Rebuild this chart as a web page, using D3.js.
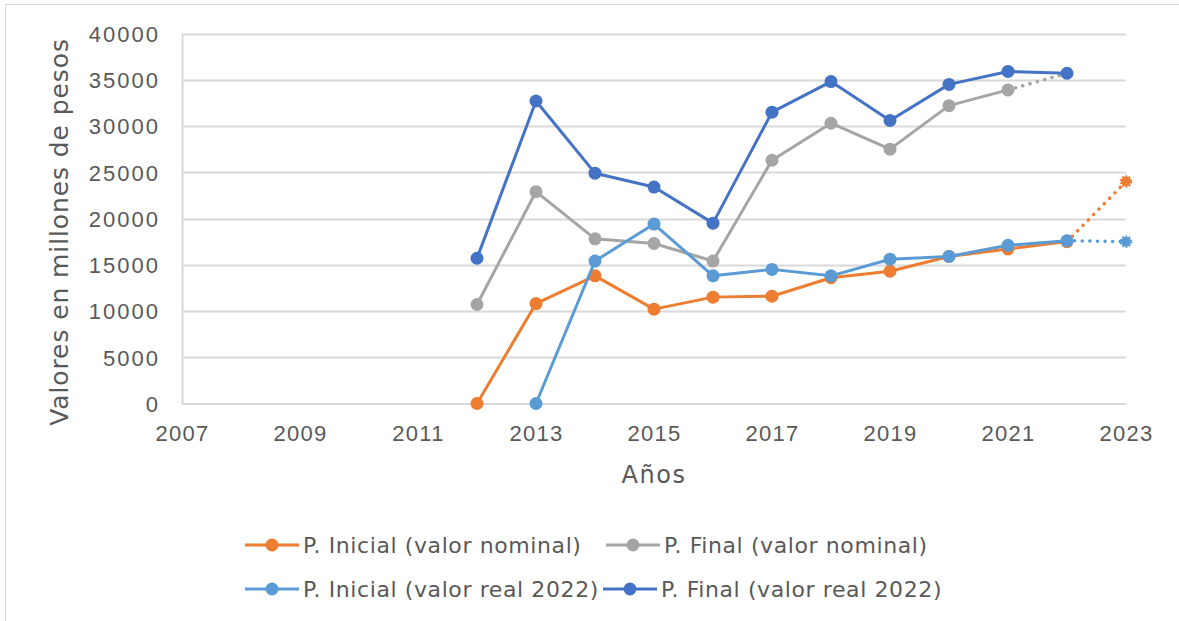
<!DOCTYPE html>
<html>
<head>
<meta charset="utf-8">
<script src="https://cdn.jsdelivr.net/npm/d3@7"></script>
<style>
  html, body { margin: 0; padding: 0; background: #fff; }
  svg { display: block; font-family: "DejaVu Sans", "Open Sans", sans-serif; }
</style>
</head>
<body>
<svg id="chart" width="1179" height="621"></svg>
<script>
// Presupuesto inicial y final, en millones de pesos
const years = [2012, 2013, 2014, 2015, 2016, 2017, 2018, 2019, 2020, 2021, 2022, 2023];

const inicialNominal = [0, 10800, 13800, 10200, 11500, 11600, 13600, 14300, 15900, 16700, 17500, 24000];
const finalNominal   = [10700, 22900, 17800, 17300, 15400, 26300, 30300, 27500, 32200, 33900, 35700, null];
const inicialReal    = [null, 0, 15400, 19400, 13800, 14500, 13800, 15600, 15900, 17100, 17600, 17500];
const finalReal      = [15700, 32700, 24900, 23400, 19500, 31500, 34800, 30600, 34500, 35900, 35700, null];

// Year from which each series is a projection (drawn dotted)
const projectedFrom = {
  inicialNominal: 2022,
  finalNominal: 2021,
  inicialReal: 2022,
  finalReal: null
};

const xTicks = [2007, 2009, 2011, 2013, 2015, 2017, 2019, 2021, 2023];
const yTicks = [0, 5000, 10000, 15000, 20000, 25000, 30000, 35000, 40000];

const seriesDefs = [
  { key: "inicialNominal", label: "P. Inicial (valor nominal)", color: "#ED7D31", values: inicialNominal },
  { key: "finalNominal",   label: "P. Final (valor nominal)",   color: "#A5A5A5", values: finalNominal },
  { key: "inicialReal",    label: "P. Inicial (valor real 2022)", color: "#5B9BD5", values: inicialReal },
  { key: "finalReal",      label: "P. Final (valor real 2022)",   color: "#4472C4", values: finalReal }
];

const svg = d3.select("#chart");
const textColor = "#595959";
const gridColor = "#D9D9D9";

// outer frame
svg.append("rect")
  .attr("x", 5.5).attr("y", 4.5)
  .attr("width", 1300).attr("height", 800)
  .attr("fill", "none").attr("stroke", "#D9D9D9").attr("stroke-width", 1);

const plot = { left: 182, right: 1126, top: 33.5, bottom: 403.5 };

const x = d3.scaleLinear().domain([2007, 2023]).range([plot.left, plot.right]);
const y = d3.scaleLinear().domain([0, 40000]).range([plot.bottom, plot.top]);

// horizontal gridlines
svg.append("g")
  .selectAll("line")
  .data(yTicks.filter(t => t > 0))
  .join("line")
  .attr("x1", plot.left).attr("x2", plot.right)
  .attr("y1", d => Math.round(y(d)) + 0.5).attr("y2", d => Math.round(y(d)) + 0.5)
  .attr("stroke", gridColor).attr("stroke-width", 2);

// value axis (left)
const yAxis = svg.append("g")
  .attr("transform", `translate(${plot.left},0)`)
  .call(d3.axisLeft(y).tickValues(yTicks).tickSize(0).tickPadding(22).tickFormat(d3.format("d")));
yAxis.select(".domain").attr("stroke", gridColor).attr("stroke-width", 2);
yAxis.selectAll("text")
  .attr("fill", textColor).attr("font-size", 22).attr("letter-spacing", 2)
  .attr("dy", "0.36em");

// year axis (bottom)
const xAxis = svg.append("g")
  .attr("transform", `translate(0,${plot.bottom})`)
  .call(d3.axisBottom(x).tickValues(xTicks).tickSize(0).tickPadding(22).tickFormat(d3.format("d")));
xAxis.select(".domain").attr("stroke", gridColor).attr("stroke-width", 2);
xAxis.selectAll("text")
  .attr("fill", textColor).attr("font-size", 22).attr("letter-spacing", 1.3)
  .attr("dy", "0.71em");

// axis titles
svg.append("text")
  .attr("transform", `translate(68,232) rotate(-90)`)
  .attr("text-anchor", "middle")
  .attr("fill", textColor).attr("font-size", 25).attr("letter-spacing", 0.9)
  .text("Valores en millones de pesos");

svg.append("text")
  .attr("x", 654).attr("y", 483)
  .attr("text-anchor", "middle")
  .attr("fill", textColor).attr("font-size", 24).attr("letter-spacing", 1.5)
  .text("Años");

// series lines and markers
const line = d3.line().x(d => x(d.year)).y(d => y(d.value));

seriesDefs.forEach(s => {
  const pts = years.map((yr, i) => ({ year: yr, value: s.values[i] })).filter(p => p.value !== null);
  const cut = projectedFrom[s.key];
  const solid = cut === null ? pts : pts.filter(p => p.year <= cut);
  const dotted = cut === null ? [] : pts.filter(p => p.year >= cut);

  const g = svg.append("g");
  g.append("path")
    .datum(solid)
    .attr("d", line)
    .attr("fill", "none").attr("stroke", s.color)
    .attr("stroke-width", 3).attr("stroke-linejoin", "round").attr("stroke-linecap", "round");
  if (dotted.length > 1) {
    g.append("path")
      .datum(dotted)
      .attr("d", line)
      .attr("fill", "none").attr("stroke", s.color)
      .attr("stroke-width", 3.5).attr("stroke-dasharray", "0.1 7.5").attr("stroke-linecap", "round");
  }
  // markers: solid for observed points, dotted outline for projected end points
  g.selectAll("circle.obs")
    .data(solid)
    .join("circle")
    .attr("class", "obs")
    .attr("cx", d => x(d.year)).attr("cy", d => y(d.value))
    .attr("r", 6.5).attr("fill", s.color);
  g.selectAll("circle.proj")
    .data(dotted.slice(1).filter(d => !(s.key === "finalNominal")))
    .join("circle")
    .attr("class", "proj")
    .attr("cx", d => x(d.year)).attr("cy", d => y(d.value))
    .attr("r", 5).attr("fill", s.color)
    .attr("stroke", s.color).attr("stroke-width", 2.5).attr("stroke-dasharray", "1.6 1.6");
});

// legend
const legendItems = [
  { s: seriesDefs[0], x: 245, y: 545 },
  { s: seriesDefs[1], x: 606, y: 545 },
  { s: seriesDefs[2], x: 245, y: 589 },
  { s: seriesDefs[3], x: 603, y: 589 }
];
const lg = svg.append("g");
legendItems.forEach(it => {
  const g = lg.append("g").attr("transform", `translate(${it.x},${it.y})`);
  g.append("line").attr("x1", 0).attr("x2", 54).attr("y1", 0).attr("y2", 0)
    .attr("stroke", it.s.color).attr("stroke-width", 3);
  g.append("circle").attr("cx", 27).attr("cy", 0).attr("r", 6.5).attr("fill", it.s.color);
  g.append("text").attr("x", 58).attr("y", 0).attr("dy", "0.36em")
    .attr("fill", textColor).attr("font-size", 22).attr("letter-spacing", 0.6)
    .text(it.s.label);
});
</script>
</body>
</html>
